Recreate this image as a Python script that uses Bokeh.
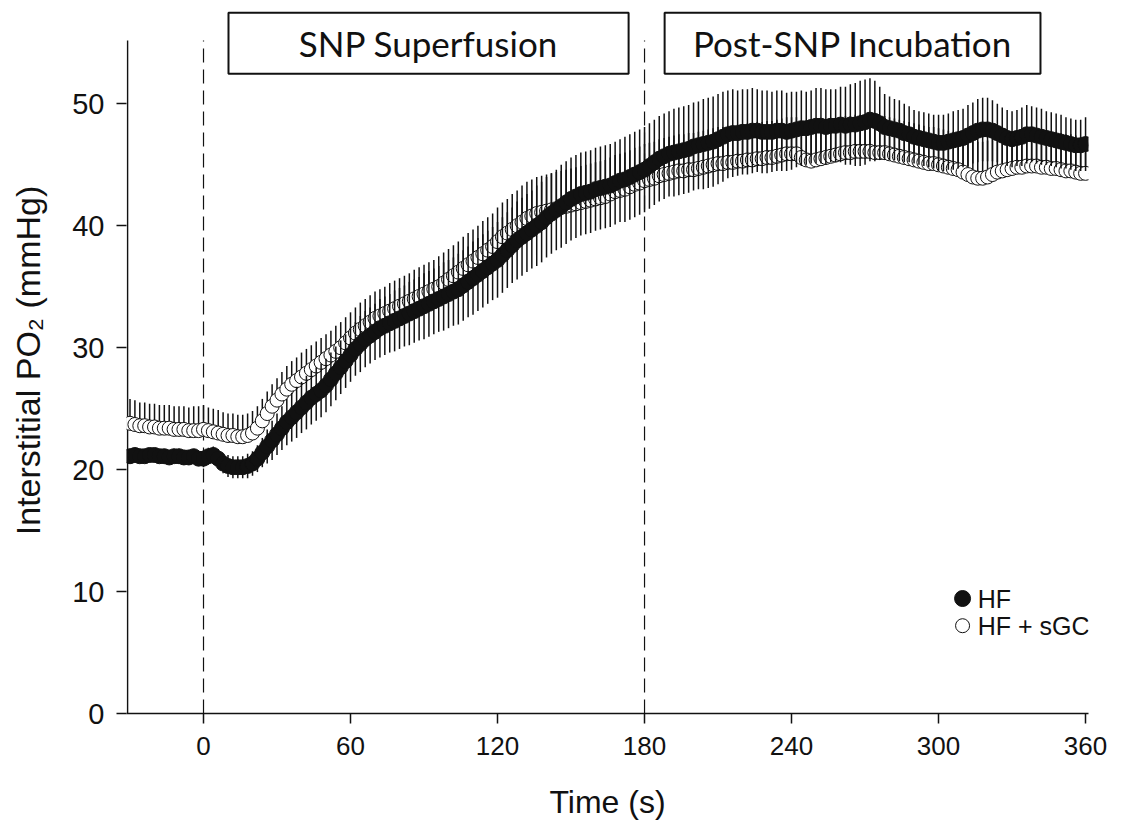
from bokeh.plotting import figure
from bokeh.models import FixedTicker, Range1d, ColumnDataSource
from bokeh.embed import file_html
from bokeh.resources import INLINE
from bokeh.core.properties import value

# ---------------- data ----------------
time_s = list(range(-30, 361, 2))

hf_mean = [
    21.1, 21.2, 21.1, 21.1, 21.2, 21.2, 21.1, 21.1, 21.0, 21.1,
    21.1, 21.0, 21.0, 21.1, 20.9, 20.9, 21.1, 21.2, 20.9, 20.5,
    20.3, 20.2, 20.2, 20.2, 20.3, 20.5, 20.9, 21.4, 21.9, 22.4,
    22.9, 23.4, 23.9, 24.3, 24.7, 25.1, 25.5, 25.9, 26.2, 26.5,
    26.9, 27.4, 27.9, 28.4, 28.9, 29.4, 29.9, 30.3, 30.7, 31.0,
    31.3, 31.6, 31.8, 32.0, 32.2, 32.4, 32.6, 32.8, 33.0, 33.2,
    33.4, 33.6, 33.8, 34.0, 34.2, 34.4, 34.6, 34.8, 35.1, 35.4,
    35.7, 36.0, 36.3, 36.6, 36.9, 37.2, 37.6, 38.0, 38.4, 38.8,
    39.1, 39.4, 39.7, 40.0, 40.3, 40.7, 41.0, 41.3, 41.6, 41.9,
    42.2, 42.4, 42.6, 42.7, 42.8, 43.0, 43.1, 43.2, 43.3, 43.5,
    43.7, 43.8, 44.0, 44.2, 44.4, 44.6, 44.9, 45.2, 45.5, 45.7,
    45.9, 46.0, 46.1, 46.2, 46.3, 46.5, 46.6, 46.7, 46.8, 46.9,
    47.1, 47.3, 47.5, 47.6, 47.6, 47.7, 47.7, 47.8, 47.8, 47.7,
    47.7, 47.7, 47.8, 47.8, 47.7, 47.8, 47.9, 48.0, 48.0, 48.1,
    48.2, 48.2, 48.1, 48.2, 48.2, 48.3, 48.2, 48.3, 48.3, 48.4,
    48.5, 48.7, 48.6, 48.4, 48.1, 48.0, 47.9, 47.8, 47.6, 47.5,
    47.3, 47.2, 47.1, 47.0, 46.9, 46.8, 46.8, 46.9, 47.0, 47.1,
    47.2, 47.4, 47.6, 47.8, 47.9, 47.9, 47.8, 47.6, 47.4, 47.2,
    47.1, 47.2, 47.3, 47.5, 47.5, 47.4, 47.3, 47.2, 47.1, 47.0,
    46.9, 46.8, 46.7, 46.6, 46.6, 46.7,
]

hf_sem = [
    0.5, 0.5, 0.5, 0.5, 0.5, 0.5, 0.5, 0.5, 0.5, 0.5,
    0.6, 0.6, 0.6, 0.6, 0.6, 0.7, 0.7, 0.7, 0.8, 0.8,
    0.9, 0.9, 0.9, 0.9, 1.0, 1.0, 1.1, 1.2, 1.4, 1.6,
    1.7, 1.8, 1.9, 2.0, 2.1, 2.1, 2.2, 2.2, 2.2, 2.2,
    2.2, 2.2, 2.2, 2.2, 2.2, 2.2, 2.2, 2.3, 2.3, 2.3,
    2.3, 2.4, 2.4, 2.4, 2.5, 2.5, 2.5, 2.6, 2.6, 2.6,
    2.7, 2.7, 2.7, 2.7, 2.8, 2.8, 2.8, 2.9, 2.9, 2.9,
    3.0, 3.0, 3.0, 3.0, 3.0, 3.1, 3.1, 3.1, 3.1, 3.2,
    3.2, 3.2, 3.2, 3.3, 3.3, 3.3, 3.3, 3.3, 3.4, 3.4,
    3.4, 3.4, 3.4, 3.4, 3.4, 3.4, 3.4, 3.4, 3.4, 3.4,
    3.4, 3.5, 3.5, 3.5, 3.5, 3.5, 3.5, 3.5, 3.5, 3.5,
    3.5, 3.6, 3.6, 3.6, 3.6, 3.6, 3.6, 3.7, 3.7, 3.7,
    3.7, 3.7, 3.6, 3.6, 3.5, 3.5, 3.5, 3.5, 3.4, 3.4,
    3.4, 3.3, 3.3, 3.3, 3.2, 3.2, 3.1, 3.1, 3.0, 3.0,
    3.1, 3.1, 3.1, 3.0, 3.0, 3.1, 3.2, 3.3, 3.4, 3.5,
    3.5, 3.4, 3.3, 3.0, 2.7, 2.6, 2.5, 2.5, 2.4, 2.3,
    2.2, 2.2, 2.2, 2.2, 2.2, 2.3, 2.3, 2.3, 2.4, 2.4,
    2.4, 2.5, 2.5, 2.6, 2.6, 2.6, 2.5, 2.4, 2.3, 2.3,
    2.3, 2.3, 2.4, 2.4, 2.3, 2.3, 2.3, 2.2, 2.2, 2.2,
    2.2, 2.1, 2.1, 2.1, 2.1, 2.2,
]

sgc_mean = [
    23.8, 23.7, 23.6, 23.6, 23.5, 23.5, 23.4, 23.4, 23.4, 23.3,
    23.3, 23.3, 23.2, 23.2, 23.2, 23.3, 23.2, 23.1, 23.0, 22.9,
    22.8, 22.8, 22.7, 22.7, 22.8, 23.0, 23.4, 24.0, 24.6, 25.2,
    25.7, 26.2, 26.6, 27.0, 27.3, 27.6, 27.9, 28.2, 28.5, 28.8,
    29.1, 29.4, 29.7, 30.0, 30.4, 30.8, 31.2, 31.5, 31.8, 32.1,
    32.4, 32.6, 32.8, 33.0, 33.2, 33.4, 33.6, 33.8, 34.0, 34.2,
    34.4, 34.6, 34.8, 35.0, 35.3, 35.6, 35.9, 36.2, 36.5, 36.8,
    37.1, 37.4, 37.7, 38.0, 38.3, 38.7, 39.1, 39.4, 39.7, 40.0,
    40.3, 40.6, 40.8, 41.0, 41.1, 41.2, 41.3, 41.4, 41.5, 41.6,
    41.7, 41.8, 41.9, 42.0, 42.1, 42.2, 42.3, 42.4, 42.6, 42.8,
    42.9, 43.0, 43.2, 43.4, 43.5, 43.7, 43.8, 43.9, 44.1, 44.2,
    44.3, 44.4, 44.5, 44.5, 44.6, 44.6, 44.7, 44.8, 44.9, 45.0,
    45.1, 45.1, 45.2, 45.2, 45.3, 45.3, 45.4, 45.4, 45.5, 45.5,
    45.6, 45.6, 45.7, 45.8, 45.9, 45.9, 45.9, 45.6, 45.4, 45.3,
    45.4, 45.5, 45.6, 45.7, 45.8, 45.9, 46.0, 46.0, 46.1, 46.1,
    46.1, 46.1, 46.0, 46.0, 46.0, 45.9, 45.8, 45.7, 45.6, 45.5,
    45.4, 45.3, 45.2, 45.1, 45.1, 45.0, 44.9, 44.8, 44.7, 44.6,
    44.4, 44.2, 44.0, 43.9, 43.9, 44.0, 44.2, 44.4, 44.5, 44.6,
    44.7, 44.8, 44.8, 44.9, 44.9, 44.9, 44.8, 44.8, 44.7, 44.7,
    44.6, 44.5, 44.5, 44.4, 44.3, 44.3,
]

sgc_sem = [
    2.0, 2.0, 1.9, 1.9, 1.9, 1.9, 1.9, 1.9, 1.9, 1.9,
    1.9, 1.9, 1.9, 2.0, 2.0, 2.0, 1.9, 1.9, 1.9, 1.8,
    1.8, 1.8, 1.8, 1.8, 1.8, 1.8, 1.8, 1.8, 1.8, 1.8,
    1.8, 1.8, 1.9, 1.9, 1.9, 2.0, 2.0, 2.0, 2.0, 2.0,
    2.0, 2.0, 2.1, 2.1, 2.1, 2.1, 2.1, 2.2, 2.2, 2.2,
    2.2, 2.2, 2.2, 2.3, 2.3, 2.3, 2.3, 2.3, 2.4, 2.4,
    2.4, 2.4, 2.4, 2.5, 2.5, 2.5, 2.5, 2.5, 2.6, 2.6,
    2.6, 2.6, 2.7, 2.7, 2.7, 2.8, 2.8, 2.8, 2.9, 2.9,
    3.0, 3.0, 3.0, 3.0, 3.0, 3.0, 3.0, 3.0, 3.0, 3.0,
    3.0, 3.0, 3.0, 3.0, 3.0, 3.0, 3.0, 3.0, 3.0, 3.0,
    3.0, 3.0, 3.0, 3.0, 3.0, 3.0, 3.0, 3.0, 3.0, 3.0,
    3.0, 3.0, 3.0, 3.0, 3.0, 3.0, 3.0, 3.0, 3.0, 3.0,
    3.0, 3.0, 3.0, 3.0, 3.0, 3.0, 3.0, 3.0, 3.0, 3.0,
    3.0, 3.0, 3.0, 3.0, 3.0, 3.0, 3.0, 3.0, 3.0, 3.0,
    3.0, 3.0, 3.0, 3.0, 3.0, 3.0, 3.0, 3.0, 3.0, 3.0,
    3.0, 3.0, 3.0, 3.0, 3.0, 3.0, 3.0, 3.0, 3.0, 3.0,
    3.0, 3.0, 3.0, 3.0, 3.0, 3.0, 3.0, 3.0, 3.0, 3.0,
    3.0, 3.0, 3.0, 3.0, 3.0, 3.0, 3.0, 3.0, 3.0, 3.0,
    3.0, 3.0, 3.0, 3.0, 3.0, 3.0, 3.0, 3.0, 3.0, 3.0,
    3.0, 3.0, 3.0, 3.0, 3.0, 3.0,
]

x_ticks = [0, 60, 120, 180, 240, 300, 360]
y_ticks = [0, 10, 20, 30, 40, 50]
phase_marks = [0, 180]
series_names = ["HF", "HF + sGC"]
phase_names = ["SNP Superfusion", "Post-SNP Incubation"]
x_title = "Time (s)"
y_title = "Interstitial PO\u2082 (mmHg)"

# ---------------- figure ----------------
INK = "#111111"
FONT = "Liberation Sans"

p = figure(width=1128, height=829, output_backend="svg", toolbar_location=None,
           x_range=Range1d(-31.43, 361.2), y_range=Range1d(0, 57.9),
           min_border_left=126, min_border_right=40, min_border_top=7,
           min_border_bottom=116)
p.outline_line_color = None
p.xgrid.visible = False
p.ygrid.visible = False
p.background_fill_color = "white"
p.border_fill_color = "white"

p.xaxis.ticker = FixedTicker(ticks=x_ticks)
p.yaxis.ticker = FixedTicker(ticks=y_ticks)
for ax in (p.xaxis, p.yaxis):
    ax.major_tick_in = 0
    ax.major_tick_out = 10
    ax.minor_tick_line_color = None
    ax.major_tick_line_color = INK
    ax.major_tick_line_width = 1.5
    ax.major_label_text_font = FONT
    ax.major_label_text_color = INK
    ax.axis_label_text_font = FONT
    ax.axis_label_text_font_style = "normal"
    ax.axis_label_text_color = INK
p.xaxis.major_label_text_font_size = "26px"
p.yaxis.major_label_text_font_size = "29px"
p.xaxis.axis_label_text_font_size = "32px"
p.yaxis.axis_label_text_font_size = "34px"
p.xaxis.axis_line_color = INK
p.xaxis.axis_line_width = 1.5
p.yaxis.axis_line_color = None
p.xaxis.major_label_standoff = 13
p.yaxis.major_label_standoff = 12
p.xaxis.axis_label = x_title
p.yaxis.axis_label = y_title
p.xaxis.axis_label_standoff = 26
p.yaxis.axis_label_standoff = 22

# manual y-axis line (stops at the top of the data area)
p.segment(x0=[-31.0], y0=[0], x1=[-31.0], y1=[55.2], line_color=INK, line_width=1.5)

# dashed phase markers
p.segment(x0=phase_marks, y0=[0, 0], x1=phase_marks, y1=[55.2, 55.2],
          line_color=INK, line_width=1.2, line_dash="14 7")

# data sources
hf_src = ColumnDataSource(dict(
    t=time_s, m=hf_mean,
    lo=[m - e for m, e in zip(hf_mean, hf_sem)],
    hi=[m + e for m, e in zip(hf_mean, hf_sem)]))
sgc_src = ColumnDataSource(dict(
    t=time_s, m=sgc_mean,
    hi=[m + e for m, e in zip(sgc_mean, sgc_sem)]))

# HF + sGC: upward error bars, open circles
p.segment(x0="t", y0="m", x1="t", y1="hi", source=sgc_src, line_color=INK, line_width=1.5)
p.scatter(x="t", y="m", source=sgc_src, marker="circle", size=14,
          fill_color="white", line_color=INK, line_width=1)

# HF: two-sided error bars, filled circles
p.segment(x0="t", y0="lo", x1="t", y1="hi", source=hf_src, line_color=INK, line_width=1.5)
p.scatter(x="t", y="m", source=hf_src, marker="circle", size=15,
          fill_color=INK, line_color=INK, line_width=1)

# phase boxes
p.quad(left=[10.2, 188.2], right=[173.5, 341.6], bottom=[52.46, 52.46], top=[57.46, 57.46],
       fill_color="white", line_color=INK, line_width=2)
p.text(x=[91.85, 264.9], y=[54.96, 54.96], text=phase_names,
       text_font=value("Lato"), text_font_size="35px", text_color=INK,
       text_align="center", text_baseline="middle")

# legend
p.scatter(x=[309.8], y=[9.43], marker="circle", size=16, fill_color=INK, line_color=INK)
p.scatter(x=[309.8], y=[7.2], marker="circle", size=14, fill_color="white",
          line_color=INK, line_width=1)
p.text(x=[316.0, 316.0], y=[9.43, 7.2], text=series_names,
       text_font=value(FONT), text_font_size="25px", text_color=INK,
       text_align="left", text_baseline="middle")

open("out.html", "w").write(file_html(p, INLINE))
